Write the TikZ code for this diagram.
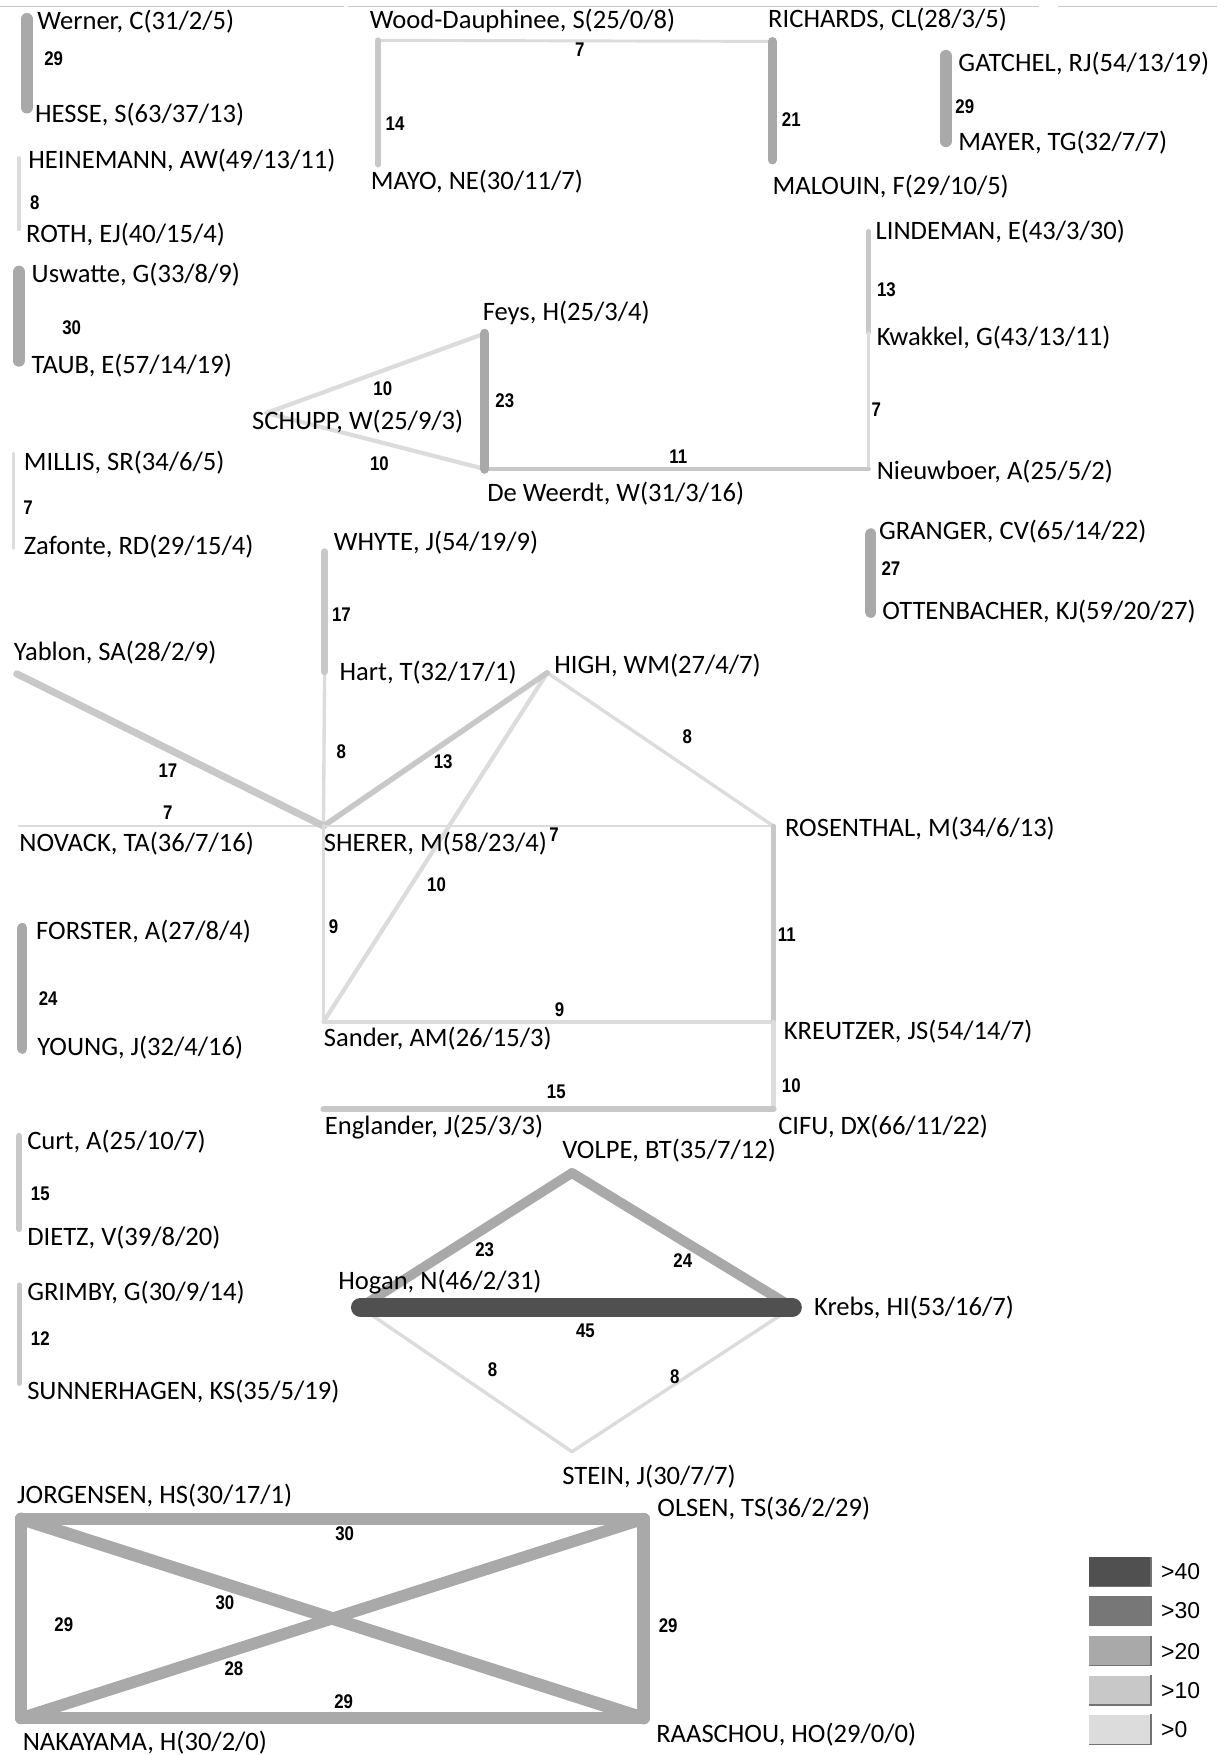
\documentclass[tikz,border=0pt]{standalone}
\usepackage{fontspec}
\setmainfont{Carlito}
\newfontfamily\numfont[FakeStretch=0.85]{Liberation Sans Bold}
\newfontfamily\legfont{Liberation Sans}
\definecolor{cz}{HTML}{DCDCDC}
\definecolor{ca}{HTML}{C8C8C8}
\definecolor{cb}{HTML}{A9A9A9}
\definecolor{cc}{HTML}{777777}
\definecolor{cd}{HTML}{505050}
\tikzset{
  nm/.style={anchor=west, inner sep=0pt, font=\fontsize{13.3pt}{16pt}\selectfont, text height=8.6pt, text depth=0pt},
  lb/.style={inner sep=0pt, font=\numfont\fontsize{9.9pt}{11pt}\selectfont, text height=7pt, text depth=0pt},
  ew/.style={line width=#1*0.21pt, line cap=round},
  k0/.style={draw=cz},
  k10/.style={draw=ca},
  k20/.style={draw=cb},
  k30/.style={draw=cc},
  k40/.style={draw=cd},
  legbox/.style={inner sep=0pt, minimum width=55*0.56pt, minimum height=26*0.56pt, draw=none},
  legtxt/.style={anchor=west, inner sep=0pt, font=\legfont\fontsize{11.5pt}{13pt}\selectfont, text height=8.2pt, text depth=0pt}
}
\begin{document}
\begin{tikzpicture}[x=0.56pt, y=-0.56pt]
\useasboundingbox (0,0) rectangle (1094,1568);
\fill[white] (0,0) rectangle (1094,1568);
% top faint rule
\coordinate (t0) at (0,6); \coordinate (t1) at (307,6);
\coordinate (t2) at (311,6); \coordinate (t3) at (928,6);
\coordinate (t4) at (945,6); \coordinate (t5) at (1087,6);
\draw[ca, line width=0.6pt] (t0) -- (t1) (t2) -- (t3) (t4) -- (t5);

% ---------- vertex coordinates ----------
\coordinate (vWerner) at (24,17);   \coordinate (vHESSE) at (24,96);
\coordinate (vWood) at (338,36);    \coordinate (vMAYO) at (338,147);
\coordinate (vRICH) at (690,37);    \coordinate (vMAL) at (690,143);
\coordinate (vGAT) at (845,50);     \coordinate (vMAYER) at (845,126);
\coordinate (vHEIN) at (17,141);    \coordinate (vROTH) at (17,205);
\coordinate (vUsw) at (17,243);     \coordinate (vTAUB) at (17,322);
\coordinate (vLIND) at (776,207);   \coordinate (vKwak) at (776,297);
\coordinate (vNieu) at (776,419);
\coordinate (vFeys) at (433,298);   \coordinate (vSCHUPP) at (238,369);
\coordinate (vDeW) at (433,419);
\coordinate (vMILLIS) at (12,405);  \coordinate (vZaf) at (12,490);
\coordinate (vGRANGER) at (778,477);\coordinate (vOTT) at (778,547);
\coordinate (vWHYTE) at (290,493);  \coordinate (vHart) at (290,600);
\coordinate (vYablon) at (15,602);  \coordinate (vNOVACK) at (17,738);
\coordinate (vSHERER) at (289,738); \coordinate (vHIGH) at (489,601);
\coordinate (vROS) at (691,738);
\coordinate (vFOR) at (20,829);     \coordinate (vYOUNG) at (20,937);
\coordinate (vSander) at (289,913); \coordinate (vKREU) at (691,913);
\coordinate (vEng) at (289,991);    \coordinate (vCIFU) at (691,991);
\coordinate (vCurt) at (17,1015);   \coordinate (vDIETZ) at (17,1098);
\coordinate (vGRIMBY) at (17,1148); \coordinate (vSUNN) at (17,1236);
\coordinate (vVOLPE) at (511,1048); \coordinate (vHogan) at (322,1168);
\coordinate (vKrebs) at (708,1168); \coordinate (vSTEIN) at (511,1297);
\coordinate (vJORG) at (19,1357);   \coordinate (vOLSEN) at (575,1357);
\coordinate (vNAKA) at (19,1535);   \coordinate (vRAAS) at (575,1535);

% ---------- connectors ----------
\draw[k0,ew=7]  (vWood) -- (vRICH);
\draw[k10,ew=14] (vWood) -- (vMAYO);
\draw[k20,ew=21] (vRICH) -- (vMAL);
\draw[k20,ew=29] (vWerner) -- (vHESSE);
\draw[k20,ew=29] (vGAT) -- (vMAYER);
\draw[k0,ew=8]  (vHEIN) -- (vROTH);
\draw[k20,ew=30] (vUsw) -- (vTAUB);
\draw[k10,ew=13] (vLIND) -- (vKwak);
\draw[k0,ew=7]  (vKwak) -- (vNieu);
\draw[k0,ew=10] (vSCHUPP) -- (vFeys);
\draw[k0,ew=10] (vSCHUPP) -- (vDeW);
\draw[k10,ew=11] (vDeW) -- (vNieu);
\draw[k20,ew=23] (vFeys) -- (vDeW);
\draw[k0,ew=7]  (vMILLIS) -- (vZaf);
\draw[k20,ew=27] (vGRANGER) -- (vOTT);
\draw[k0,ew=8]  (vHart) -- (vSHERER);
\draw[k10,ew=17] (vWHYTE) -- (vHart);
\draw[k0,ew=7]  (vNOVACK) -- (vSHERER);
\draw[k10,ew=17] (vYablon) -- (vSHERER);
\draw[k0,ew=10] (vHIGH) -- (vSander);
\draw[k0,ew=8]  (vHIGH) -- (vROS);
\draw[k10,ew=13] (vSHERER) -- (vHIGH);
\draw[k0,ew=7]  (vSHERER) -- (vROS);
\draw[k0,ew=9]  (vSHERER) -- (vSander);
\draw[k0,ew=9]  (vSander) -- (vKREU);
\draw[k10,ew=11] (vROS) -- (vKREU);
\draw[k0,ew=10] (vKREU) -- (vCIFU);
\draw[k10,ew=15] (vEng) -- (vCIFU);
\draw[k20,ew=24] (vFOR) -- (vYOUNG);
\draw[k10,ew=15] (vCurt) -- (vDIETZ);
\draw[k10,ew=12] (vGRIMBY) -- (vSUNN);
\draw[k0,ew=8]  (vHogan) -- (vSTEIN);
\draw[k0,ew=8]  (vSTEIN) -- (vKrebs);
\draw[k20,ew=23] (vHogan) -- (vVOLPE);
\draw[k20,ew=24] (vVOLPE) -- (vKrebs);
\draw[k40,ew=45] (vHogan) -- (vKrebs);
\draw[k20,ew=29] (vJORG) -- (vNAKA);
\draw[k20,ew=29] (vOLSEN) -- (vRAAS);
\draw[k20,ew=29] (vNAKA) -- (vRAAS);
\draw[k20,ew=30] (vJORG) -- (vOLSEN);
\draw[k20,ew=30] (vJORG) -- (vRAAS);
\draw[k20,ew=28] (vOLSEN) -- (vNAKA);

% ---------- edge labels ----------
\node[lb] (l1) at (48,52) {29};
\node[lb] (l2) at (518,44) {7};
\node[lb] (l3) at (353,110) {14};
\node[lb] (l4) at (707,107) {21};
\node[lb] (l5) at (862,95) {29};
\node[lb] (l6) at (31,181) {8};
\node[lb] (l7) at (64,293) {30};
\node[lb] (l8) at (792,259) {13};
\node[lb] (l9) at (783,366) {7};
\node[lb] (l10) at (342,347) {10};
\node[lb] (l11) at (339,414) {10};
\node[lb] (l12) at (451,358) {23};
\node[lb] (l13) at (606,408) {11};
\node[lb] (l14) at (25,453) {7};
\node[lb] (l15) at (796,508) {27};
\node[lb] (l16) at (305,549) {17};
\node[lb] (l17) at (305,671) {8};
\node[lb] (l18) at (150,688) {17};
\node[lb] (l19) at (150,726) {7};
\node[lb] (l20) at (396,680) {13};
\node[lb] (l21) at (390,790) {10};
\node[lb] (l22) at (614,658) {8};
\node[lb] (l23) at (495,746) {7};
\node[lb] (l24) at (298,828) {9};
\node[lb] (l25) at (500,902) {9};
\node[lb] (l26) at (703,835) {11};
\node[lb] (l27) at (497,975) {15};
\node[lb] (l28) at (707,970) {10};
\node[lb] (l29) at (43,892) {24};
\node[lb] (l30) at (36,1066) {15};
\node[lb] (l31) at (36,1196) {12};
\node[lb] (l32) at (433,1116) {23};
\node[lb] (l33) at (610,1126) {24};
\node[lb] (l34) at (523,1189) {45};
\node[lb] (l35) at (440,1224) {8};
\node[lb] (l36) at (603,1230) {8};
\node[lb] (l37) at (308,1370) {30};
\node[lb] (l38) at (57,1451) {29};
\node[lb] (l39) at (597,1452) {29};
\node[lb] (l40) at (307,1520) {29};
\node[lb] (l41) at (201,1432) {30};
\node[lb] (l42) at (209,1491) {28};

% ---------- names ----------
\node[nm] (Werner) at (33,19) {Werner, C(31/2/5)};
\node[nm] (HESSE) at (31,102) {HESSE, S(63/37/13)};
\node[nm] (Wood) at (330,18) {Wood-Dauphinee, S(25/0/8)};
\node[nm] (MAYO) at (331,162) {MAYO, NE(30/11/7)};
\node[nm] (RICH) at (686,17) {RICHARDS, CL(28/3/5)};
\node[nm] (MAL) at (690,166) {MALOUIN, F(29/10/5)};
\node[nm] (GAT) at (856,56) {GATCHEL, RJ(54/13/19)};
\node[nm] (MAYER) at (856,127) {MAYER, TG(32/7/7)};
\node[nm] (HEIN) at (25,143) {HEINEMANN, AW(49/13/11)};
\node[nm] (ROTH) at (23,209) {ROTH, EJ(40/15/4)};
\node[nm] (Usw) at (28,245) {Uswatte, G(33/8/9)};
\node[nm] (TAUB) at (28,326) {TAUB, E(57/14/19)};
\node[nm] (LIND) at (782,206) {LINDEMAN, E(43/3/30)};
\node[nm] (Kwak) at (783,301) {Kwakkel, G(43/13/11)};
\node[nm] (Nieu) at (783,421) {Nieuwboer, A(25/5/2)};
\node[nm] (Feys) at (431,279) {Feys, H(25/3/4)};
\node[nm] (SCHUPP) at (225,376) {SCHUPP, W(25/9/3)};
\node[nm] (DeW) at (435,440) {De Weerdt, W(31/3/16)};
\node[nm] (MILLIS) at (21,413) {MILLIS, SR(34/6/5)};
\node[nm] (Zaf) at (21,488) {Zafonte, RD(29/15/4)};
\node[nm] (GRANGER) at (785,474) {GRANGER, CV(65/14/22)};
\node[nm] (OTT) at (788,546) {OTTENBACHER, KJ(59/20/27)};
\node[nm] (WHYTE) at (298,484) {WHYTE, J(54/19/9)};
\node[nm] (Hart) at (303,600) {Hart, T(32/17/1)};
\node[nm] (Yablon) at (12,582) {Yablon, SA(28/2/9)};
\node[nm] (HIGH) at (495,594) {HIGH, WM(27/4/7)};
\node[nm] (NOVACK) at (17,753) {NOVACK, TA(36/7/16)};
\node[nm] (SHERER) at (289,753) {SHERER, M(58/23/4)};
\node[nm] (ROS) at (701,740) {ROSENTHAL, M(34/6/13)};
\node[nm] (FOR) at (32,832) {FORSTER, A(27/8/4)};
\node[nm] (YOUNG) at (33,935) {YOUNG, J(32/4/16)};
\node[nm] (Sander) at (289,927) {Sander, AM(26/15/3)};
\node[nm] (KREU) at (700,921) {KREUTZER, JS(54/14/7)};
\node[nm] (Eng) at (290,1006) {Englander, J(25/3/3)};
\node[nm] (CIFU) at (695,1006) {CIFU, DX(66/11/22)};
\node[nm] (Curt) at (24,1019) {Curt, A(25/10/7)};
\node[nm] (DIETZ) at (24,1105) {DIETZ, V(39/8/20)};
\node[nm] (VOLPE) at (502,1027) {VOLPE, BT(35/7/12)};
\node[nm] (GRIMBY) at (24,1154) {GRIMBY, G(30/9/14)};
\node[nm] (Hogan) at (302,1144) {Hogan, N(46/2/31)};
\node[nm] (Krebs) at (727,1168) {Krebs, HI(53/16/7)};
\node[nm] (SUNN) at (24,1243) {SUNNERHAGEN, KS(35/5/19)};
\node[nm] (STEIN) at (502,1319) {STEIN, J(30/7/7)};
\node[nm] (JORG) at (15,1336) {JORGENSEN, HS(30/17/1)};
\node[nm] (OLSEN) at (587,1347) {OLSEN, TS(36/2/29)};
\node[nm] (NAKA) at (20,1556) {NAKAYAMA, H(30/2/0)};
\node[nm] (RAAS) at (586,1549) {RAASCHOU, HO(29/0/0)};

% ---------- legend ----------
\foreach \c/\t/\yy [count=\i] in {cd/>40/1404, cc/>30/1439, cb/>20/1475, ca/>10/1510, cz/>0/1545}{
  \node[legbox, fill=\c, anchor=center] (lg\i) at (1000.5,\yy) {};
  \draw[black!55, line width=0.6pt] (lg\i.south west) -- (lg\i.south east) -- (lg\i.north east);
  \node[legtxt] (lt\i) at (1037,\yy) {\t};
}
\end{tikzpicture}
\end{document}
